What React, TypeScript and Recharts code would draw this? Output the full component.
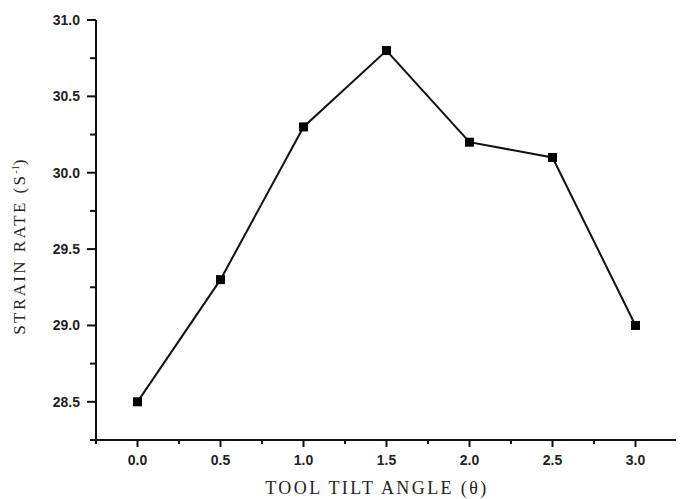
import { LineChart, Line, XAxis, YAxis } from 'recharts';

const tiltAngles = [0, 0.5, 1.0, 1.5, 2.0, 2.5, 3.0];
const strainRates = [28.5, 29.3, 30.3, 30.8, 30.2, 30.1, 29.0];

const xTicks = [-0.25, 0, 0.25, 0.5, 0.75, 1.0, 1.25, 1.5, 1.75, 2.0, 2.25, 2.5, 2.75, 3.0, 3.25];
const yTicks = [28.25, 28.5, 28.75, 29.0, 29.25, 29.5, 29.75, 30.0, 30.25, 30.5, 30.75, 31.0];

const data = tiltAngles.map((angle, i) => ({ angle, rate: strainRates[i] }));

const isMajor = (v: number) => Math.abs(v * 2 - Math.round(v * 2)) < 1e-6;
const tickFont = { fontFamily: 'Liberation Sans, Arial, sans-serif', fontWeight: 700, fontSize: 14, fill: '#222' };
const titleFont = { fontFamily: 'Liberation Serif, Times New Roman, serif', fontSize: 18, fill: '#222', letterSpacing: 2.4 };
const frame = { stroke: '#111', strokeWidth: 2 };

function XTick({ x, y, payload }: any) {
  const v = payload.value as number;
  const major = isMajor(v);
  return (
    <g>
      <line x1={x} x2={x} y1={y} y2={y + (major ? 7 : 4)} {...frame} />
      {major && (
        <text x={x} y={y + 25} textAnchor="middle" {...tickFont}>
          {v.toFixed(1)}
        </text>
      )}
    </g>
  );
}

function YTick({ x, y, payload }: any) {
  const v = payload.value as number;
  const major = isMajor(v);
  return (
    <g>
      <line x1={x} x2={x - (major ? 9 : 6)} y1={y} y2={y} {...frame} />
      {major && (
        <text x={x - 16} y={y} dy="0.36em" textAnchor="end" {...tickFont}>
          {v.toFixed(1)}
        </text>
      )}
    </g>
  );
}

function SquareDot({ cx, cy }: any) {
  return <rect x={cx - 4.5} y={cy - 4.5} width={9} height={9} fill="#000" />;
}

export default function App() {
  return (
    <LineChart width={676} height={491} data={data} margin={{ top: 12, right: 7, bottom: 0, left: 0 }}>
      <XAxis
        dataKey="angle"
        type="number"
        domain={[-0.25, 3.25]}
        ticks={xTicks}
        interval={0}
        height={59}
        tickSize={0}
        tickMargin={0}
        tickLine={false}
        tick={<XTick />}
        {...frame}
        axisLine={frame}
        label={{
          content: () => (
            <text x={369} y={486} textAnchor="middle" {...titleFont}>
              TOOL TILT ANGLE (θ)
            </text>
          ),
        }}
      />
      <XAxis
        xAxisId="top"
        dataKey="angle"
        type="number"
        domain={[-0.25, 3.25]}
        orientation="top"
        height={0}
        tick={false}
        tickLine={false}
        {...frame}
        axisLine={frame}
      />
      <YAxis
        type="number"
        domain={[28.25, 31.0]}
        ticks={yTicks}
        interval={0}
        width={88}
        tickSize={0}
        tickMargin={0}
        tickLine={false}
        tick={<YTick />}
        {...frame}
        axisLine={frame}
        label={{
          content: () => (
            <text x={17} y={238} textAnchor="middle" transform="rotate(-90, 17, 238)" {...titleFont} fontSize={17}>
              <tspan>STRAIN RATE (S</tspan>
              <tspan dy={-6} fontSize={10} letterSpacing={0}>-1</tspan>
              <tspan dy={6}>)</tspan>
            </text>
          ),
        }}
      />
      <YAxis
        yAxisId="right"
        type="number"
        domain={[28.25, 31.0]}
        orientation="right"
        width={0}
        tick={false}
        tickLine={false}
        {...frame}
        axisLine={frame}
      />
      <Line
        dataKey="rate"
        stroke="#111"
        strokeWidth={2}
        dot={<SquareDot />}
        activeDot={false}
        isAnimationActive={false}
      />
    </LineChart>
  );
}
